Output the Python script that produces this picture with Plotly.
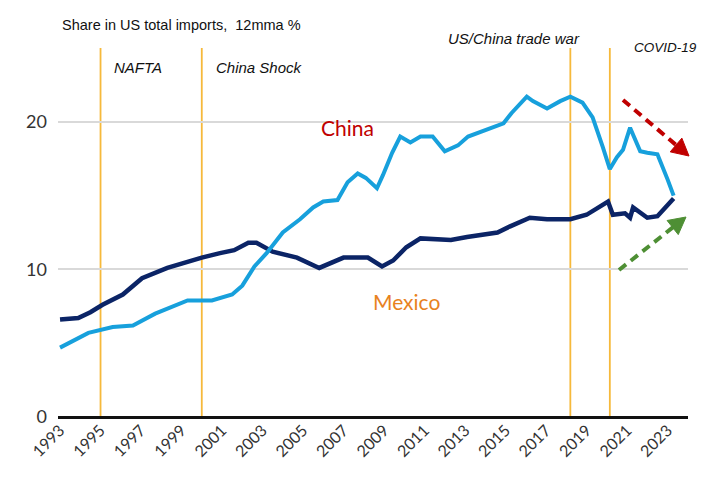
import math
import plotly.graph_objects as go

# ---- data (decimal years, % share of US total imports, 12mma) ----
mexico_x = [1993.0, 1993.9, 1994.5, 1995.1, 1996.1, 1997.05, 1998.3, 1999.2, 2000.0, 2000.9,
            2001.6, 2002.3, 2002.7, 2003.5, 2004.7, 2005.8, 2006.5, 2007.0, 2008.2, 2008.9,
            2009.45, 2010.1, 2010.8, 2012.3, 2013.1, 2014.6, 2015.2, 2016.2, 2017.05, 2018.2,
            2019.0, 2020.06, 2020.3, 2020.9, 2021.15, 2021.3, 2022.0, 2022.5, 2023.3]
mexico_y = [6.6, 6.7, 7.1, 7.6, 8.3, 9.4, 10.1, 10.5, 10.8, 11.1,
            11.3, 11.8, 11.8, 11.2, 10.8, 10.1, 10.5, 10.8, 10.8, 10.2,
            10.6, 11.5, 12.1, 12.0, 12.2, 12.5, 12.9, 13.5, 13.4, 13.4,
            13.7, 14.6, 13.7, 13.8, 13.5, 14.2, 13.5, 13.6, 14.8]

china_x = [1993.0, 1994.4, 1995.6, 1996.6, 1997.7, 1999.3, 2000.5, 2001.5, 2002.0, 2002.6,
           2003.2, 2004.0, 2004.85, 2005.5, 2006.0, 2006.7, 2007.2, 2007.7, 2008.1, 2008.65,
           2008.95, 2009.4, 2009.8, 2010.3, 2010.8, 2011.4, 2012.0, 2012.65, 2013.15, 2014.1,
           2014.9, 2015.3, 2016.05, 2016.35, 2017.05, 2017.7, 2018.2, 2018.8, 2019.3, 2019.8,
           2020.15, 2020.5, 2020.8, 2021.15, 2021.65, 2022.0, 2022.5, 2023.0, 2023.3]
china_y = [4.7, 5.7, 6.1, 6.2, 7.0, 7.9, 7.9, 8.3, 8.9, 10.2,
           11.1, 12.5, 13.4, 14.2, 14.6, 14.7, 15.9, 16.5, 16.2, 15.5,
           16.4, 17.9, 19.0, 18.6, 19.0, 19.0, 18.0, 18.4, 19.0, 19.5,
           19.9, 20.6, 21.7, 21.4, 20.9, 21.4, 21.7, 21.3, 20.3, 18.3,
           16.8, 17.6, 18.1, 19.6, 18.0, 17.9, 17.8, 16.1, 15.0]

event_x = [1995.0, 2000.0, 2018.2, 2020.15]
tick_years = list(range(1993, 2024, 2))
tick_labels = [str(y) for y in tick_years]
y_ticks = [0, 10, 20]

# ---- layout geometry (page has an 8px body margin) ----
OFF = 8
W, H = 697, 472
ML, MR, MT, MB = 50, 17, 40, 63
PW, PH = W - ML - MR, H - MT - MB

def px(x, y):
    # page pixel -> paper coords
    x -= OFF
    y -= OFF
    return (x - ML) / PW, (H - MB - y) / PH

NARROW = "Liberation Sans, Arial, sans-serif"
BODY = "Lato, Open Sans, sans-serif"

fig = go.Figure()
fig.add_trace(go.Scatter(x=mexico_x, y=mexico_y, mode="lines", name="Mexico",
                         line=dict(color="#0B2466", width=4.5), showlegend=False))
fig.add_trace(go.Scatter(x=china_x, y=china_y, mode="lines", name="China",
                         line=dict(color="#17A0DC", width=4), showlegend=False))

shapes = []
for ex in event_x:
    shapes.append(dict(type="line", xref="x", yref="paper", x0=ex, x1=ex, y0=0, y1=1,
                       line=dict(color="#F6B93B", width=1.8), layer="below"))

def arrow(x0, y0, x1, y1, color):
    dx, dy = x1 - x0, y1 - y0
    L = math.hypot(dx, dy)
    ux, uy = dx / L, dy / L
    hl, hw = 17, 9
    bx, by = x1 - ux * hl, y1 - uy * hl
    out = []
    a = px(x0, y0)
    b = px(bx + ux * 2, by + uy * 2)
    out.append(dict(type="line", xref="paper", yref="paper", x0=a[0], y0=a[1], x1=b[0], y1=b[1],
                    line=dict(color=color, width=4, dash="9px,6px")))
    p1 = px(x1, y1)
    p2 = px(bx - uy * hw, by + ux * hw)
    p3 = px(bx + uy * hw, by - ux * hw)
    path = "M {} {} L {} {} L {} {} Z".format(p1[0], p1[1], p2[0], p2[1], p3[0], p3[1])
    out.append(dict(type="path", xref="paper", yref="paper", path=path,
                    fillcolor=color, line=dict(color=color, width=1)))
    return out

shapes += arrow(623, 100, 689, 156, "#C00000")
shapes += arrow(619, 270, 686, 217, "#4E8F34")

def ann(text, x, y, size, color, font, italic=False, xanchor="left"):
    xp, yp = px(x, y)
    return dict(text=text, x=xp, y=yp, xref="paper", yref="paper", showarrow=False,
                xanchor=xanchor, yanchor="middle",
                font=dict(family=font, size=size, color=color,
                          style="italic" if italic else "normal"))

annotations = [
    ann("Share in US total imports,  12mma %", 60, 25, 14.5, "#111111", NARROW),
    ann("NAFTA", 112, 68, 15, "#111111", NARROW, True),
    ann("China Shock", 214, 68, 15, "#111111", NARROW, True),
    ann("US/China trade war", 446, 38, 15, "#111111", NARROW, True),
    ann("COVID-19", 632, 47, 13.5, "#111111", NARROW, True),
    ann("China", 319, 127, 21, "#C00000", BODY),
    ann("Mexico", 371, 301, 21, "#E8821E", BODY),
]

fig.update_layout(
    width=W, height=H,
    margin=dict(l=ML, r=MR, t=MT, b=MB),
    paper_bgcolor="white", plot_bgcolor="white",
    shapes=shapes, annotations=annotations,
    xaxis=dict(range=[1992.9, 2024.01], tickmode="array", tickvals=tick_years, ticktext=tick_labels,
               tickangle=-45, showgrid=False, zeroline=False, showline=False,
               tickfont=dict(family=BODY, size=16, color="#333333"), ticks=""),
    yaxis=dict(range=[0, 25], tickmode="array", tickvals=y_ticks, showgrid=True,
               gridcolor="#D9D9D9", gridwidth=1.5, zeroline=True, zerolinecolor="#111111",
               zerolinewidth=2.5, showline=False, ticks="",
               tickfont=dict(family=BODY, size=18, color="#333333"), ticklabelstandoff=10),
)

fig.write_html("out.html")
